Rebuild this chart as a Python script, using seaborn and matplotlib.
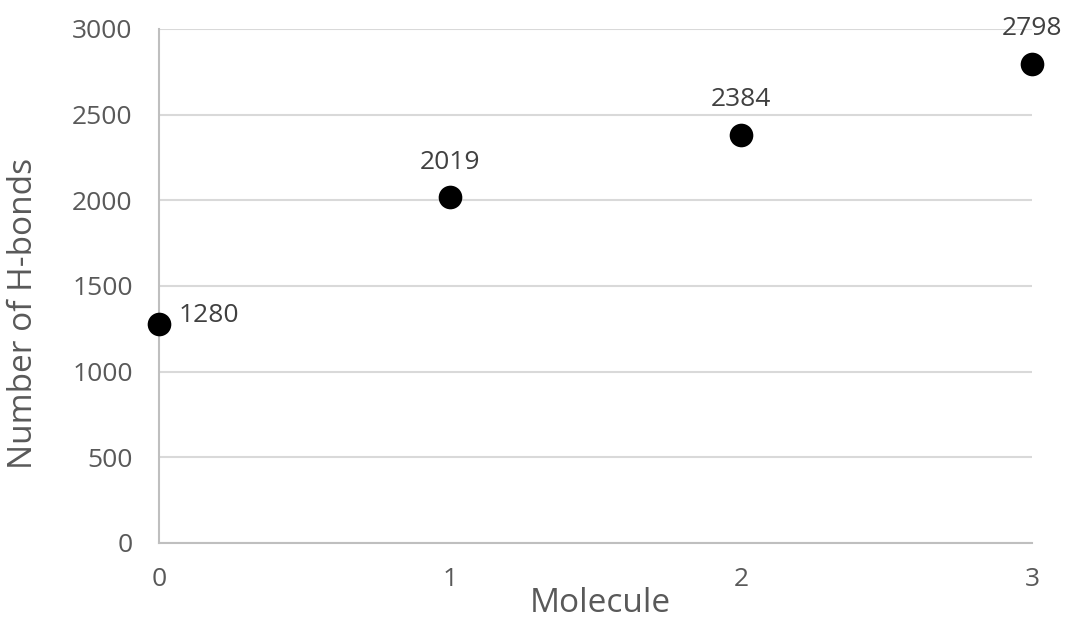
import matplotlib
matplotlib.use("Agg")
import matplotlib.pyplot as plt
import seaborn as sns
import pandas as pd

molecule = [0, 1, 2, 3]
hbonds = [1280, 2019, 2384, 2798]
y_ticks = [0, 500, 1000, 1500, 2000, 2500, 3000]
x_ticks = [0, 1, 2, 3]

sns.set_style("white")
plt.rcParams['font.family'] = ['Open Sans', 'DejaVu Sans']

df = pd.DataFrame({"Molecule": molecule, "Number of H-bonds": hbonds})

fig = plt.figure(figsize=(10.68, 6.19), dpi=100)
ax = fig.add_axes([0.1489, 0.1228, 0.9663 - 0.1489, 0.9532 - 0.1228])

sns.scatterplot(data=df, x="Molecule", y="Number of H-bonds", ax=ax,
                s=290, color="black", edgecolor="black", linewidth=0, zorder=5, clip_on=False)

ax.set_xlim(0, 3)
ax.set_ylim(0, 3000)
ax.set_xticks(x_ticks)
ax.set_yticks(y_ticks)
ax.set_xticklabels([str(v) for v in x_ticks])
ax.set_yticklabels([str(v) for v in y_ticks])

ax.grid(axis="y", color="#d9d9d9", linewidth=1.5, zorder=0)
ax.grid(axis="x", visible=False)
ax.set_axisbelow(True)
for side in ["top", "right"]:
    ax.spines[side].set_visible(False)
for side in ["left", "bottom"]:
    ax.spines[side].set_color("#bfbfbf")
    ax.spines[side].set_linewidth(1.5)

ax.tick_params(axis="both", which="major", direction="out", length=7, width=1.5,
               color="#bfbfbf", labelsize=19, labelcolor="#595959")
ax.tick_params(axis="y", pad=12)
ax.tick_params(axis="x", pad=10)

ax.set_xlabel("Molecule", fontsize=24, color="#595959")
ax.set_ylabel("Number of H-bonds", fontsize=24, color="#595959")
ax.xaxis.set_label_coords(0.505, -0.085)
ax.yaxis.set_label_coords(-0.136, 0.447)

for i, (x, y) in enumerate(zip(molecule, hbonds)):
    if i == 0:
        ax.annotate(str(y), (x, y), xytext=(14, 6), textcoords="offset points",
                    ha="left", va="center", fontsize=19, color="#404040")
    else:
        ax.annotate(str(y), (x, y), xytext=(0, 16), textcoords="offset points",
                    ha="center", va="bottom", fontsize=19, color="#404040",
                    annotation_clip=False)

fig.savefig("out.png", dpi=100, facecolor="white")
